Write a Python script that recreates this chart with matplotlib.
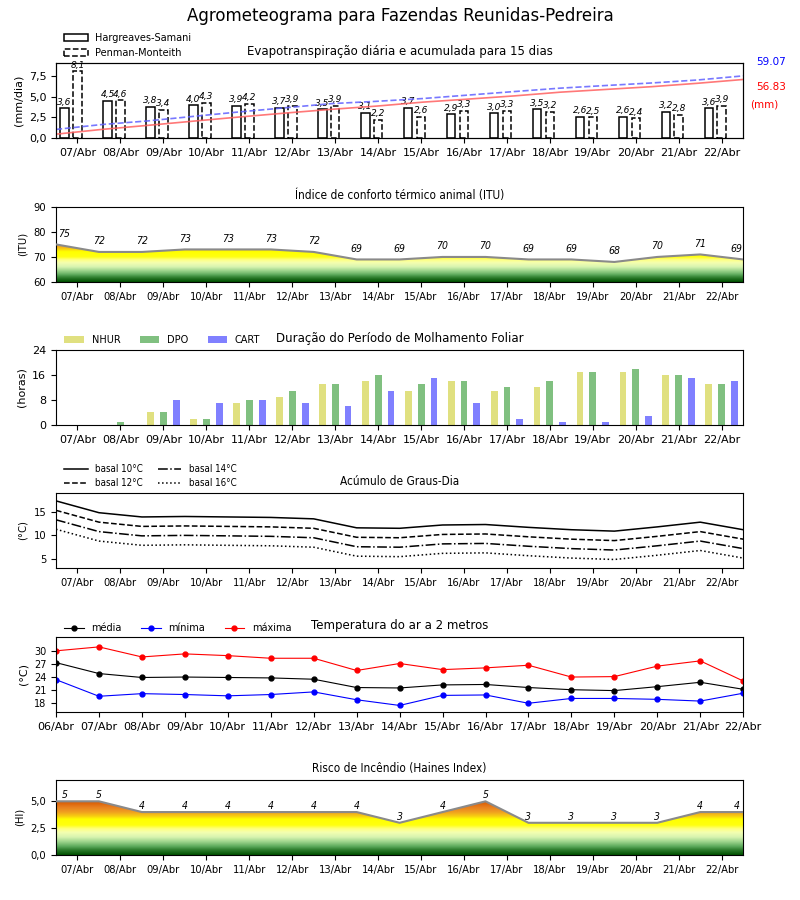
import numpy as np
import matplotlib
matplotlib.use("Agg")
import matplotlib.pyplot as plt
from matplotlib.colors import LinearSegmentedColormap, Normalize
from matplotlib.font_manager import FontProperties

# ---------------- data ----------------
days = ["07/Abr", "08/Abr", "09/Abr", "10/Abr", "11/Abr", "12/Abr", "13/Abr", "14/Abr",
        "15/Abr", "16/Abr", "17/Abr", "18/Abr", "19/Abr", "20/Abr", "21/Abr", "22/Abr"]
days_temp = ["06/Abr"] + days

et_hargreaves = [3.6, 4.5, 3.8, 4.0, 3.9, 3.7, 3.5, 3.1, 3.7, 2.9, 3.0, 3.5, 2.6, 2.6, 3.2, 3.6]
et_penman = [8.1, 4.6, 3.4, 4.3, 4.2, 3.9, 3.9, 2.2, 2.6, 3.3, 3.3, 3.2, 2.5, 2.4, 2.8, 3.9]
et_totals = {"Penman-Monteith": 59.07, "Hargreaves-Samani": 56.83}

itu = [75, 72, 72, 73, 73, 73, 72, 69, 69, 70, 70, 69, 69, 68, 70, 71, 69]

nhur = [0, 0, 4, 2, 7, 9, 13, 14, 11, 14, 11, 12, 17, 17, 16, 13]
dpo = [0, 1, 4, 2, 8, 11, 13, 16, 13, 14, 12, 14, 17, 18, 16, 13]
cart = [0, 0, 8, 7, 8, 7, 6, 11, 15, 7, 2, 1, 1, 3, 15, 14]

gd_10 = [17.3, 14.8, 13.9, 14.0, 13.9, 13.8, 13.5, 11.6, 11.5, 12.2, 12.3, 11.7, 11.2, 10.9, 11.8, 12.8, 11.2]
gd_12 = [15.3, 12.8, 11.9, 12.0, 11.9, 11.8, 11.5, 9.6, 9.5, 10.2, 10.3, 9.7, 9.2, 8.9, 9.8, 10.8, 9.2]
gd_14 = [13.3, 10.8, 9.9, 10.0, 9.9, 9.8, 9.5, 7.6, 7.5, 8.2, 8.3, 7.7, 7.2, 6.9, 7.8, 8.8, 7.2]
gd_16 = [11.3, 8.8, 7.9, 8.0, 7.9, 7.8, 7.5, 5.6, 5.5, 6.2, 6.3, 5.7, 5.2, 4.9, 5.8, 6.8, 5.2]

t_media = [27.3, 24.8, 23.9, 24.0, 23.9, 23.8, 23.5, 21.6, 21.5, 22.2, 22.3, 21.6, 21.1, 20.9, 21.8, 22.8, 21.2]
t_minima = [23.4, 19.6, 20.2, 20.0, 19.7, 20.0, 20.6, 18.8, 17.5, 19.8, 19.9, 18.0, 19.1, 19.1, 18.9, 18.5, 20.3]
t_maxima = [30.0, 30.9, 28.6, 29.3, 28.9, 28.3, 28.3, 25.5, 27.1, 25.7, 26.1, 26.7, 24.0, 24.1, 26.5, 27.7, 23.1]

haines = [5, 5, 4, 4, 4, 4, 4, 4, 3, 4, 5, 3, 3, 3, 3, 4, 4]

# ---------------- style ----------------
plt.rcParams['font.family'] = ['DejaVu Sans']
plt.rcParams['font.size'] = 8
NARROW = ['Liberation Sans Narrow', 'DejaVu Sans']
narrow = FontProperties(family=NARROW, stretch='condensed', size=8)
narrow_title = FontProperties(family=NARROW, stretch='condensed', size=8.5)
narrow_small = FontProperties(family=NARROW, stretch='condensed', size=7)
narrow_it = FontProperties(family=NARROW, stretch='condensed', style='italic', size=7.5)

cmap = LinearSegmentedColormap.from_list("risk", [
    (0.00, '#005000'), (0.08, '#2a7a2a'), (0.14, '#5aa85a'), (0.22, '#9cd48c'),
    (0.30, '#d8f4b0'), (0.38, '#f4ffb0'), (0.44, '#ffff80'), (0.50, '#ffff10'),
    (0.60, '#ffff00'), (0.65, '#f8d010'), (0.72, '#f0a020'), (0.80, '#e88020'),
    (0.90, '#d85800'), (1.00, '#b03000')])

fig = plt.figure(figsize=(8, 9), dpi=100)
fig.suptitle("Agrometeograma para Fazendas Reunidas-Pedreira", fontsize=12, y=0.992)

L, W, H = 0.07, 0.859, 0.0835
x = np.arange(len(days))
xe = np.arange(len(itu)) - 0.5


def comma(v, nd=1):
    return f"{v:.{nd}f}".replace('.', ',')


def gradient_fill(ax, xs, ys, y0, ylim, norm):
    poly = ax.fill_between(xs, y0, ys, facecolor='none', edgecolor='none')
    path = poly.get_paths()[0]
    grad = np.linspace(ylim[0], ylim[1], 400).reshape(-1, 1)
    im = ax.imshow(grad, extent=[xs[0], xs[-1], ylim[0], ylim[1]], origin='lower',
                   aspect='auto', cmap=cmap, norm=norm, zorder=1, interpolation='bilinear')
    im.set_clip_path(path, transform=ax.transData)
    ax.plot(xs, ys, color='#8a8a8a', lw=1.5, zorder=3)


# ---------------- Panel 1: Evapotranspiração ----------------
ax1 = fig.add_axes([L, 1 - 138 / 900, W, H])
ax1.bar(x - 0.3, et_hargreaves, width=0.2, facecolor='white', edgecolor='black',
        lw=1.1, label='Hargreaves-Samani', zorder=2)
ax1.bar(x, et_penman, width=0.2, facecolor='white', edgecolor='black', lw=1.1,
        linestyle='--', label='Penman-Monteith', zorder=2)
for xi, v in zip(x - 0.3, et_hargreaves):
    ax1.text(xi, v + 0.2, comma(v), ha='center', va='bottom', fontsize=6.5, style='italic')
for xi, v in zip(x, et_penman):
    ax1.text(xi, v + 0.2, comma(v), ha='center', va='bottom', fontsize=6.5, style='italic')
ax1.set_xlim(-0.5, 15.5)
ax1.set_ylim(0, 9.15)
ax1.set_yticks([0, 2.5, 5.0, 7.5], [comma(v) for v in [0, 2.5, 5.0, 7.5]])
ax1.set_xticks(x, days)
ax1.set_ylabel("(mm/dia)")
ax1.set_title("Evapotranspiração diária e acumulada para 15 dias", fontsize=8.5)
ax1.legend(loc='lower left', bbox_to_anchor=(0.005, 1.0), frameon=False, fontsize=7,
           handlelength=2.4, borderaxespad=0.1, labelspacing=0.5)
ax1t = ax1.twinx()
xc = np.linspace(-0.5, 15.5, len(days))
cum_pm = np.cumsum(et_penman)
cum_hs = np.cumsum(et_hargreaves)
ax1t.plot(xc, cum_hs, color='#ff6060', lw=1.2, alpha=0.85)
ax1t.plot(xc, cum_pm, color='#6060ff', lw=1.2, ls='--', alpha=0.85)
ax1t.set_ylim(0, 1.2 * et_totals["Penman-Monteith"])
ax1t.set_yticks([])
ax1.text(1.04, 1.01, f"{et_totals['Penman-Monteith']:.2f}", color='blue', transform=ax1.transAxes,
         ha='center', va='center', fontsize=7.5)
ax1.text(1.04, 0.68, f"{et_totals['Hargreaves-Samani']:.2f}", color='red', transform=ax1.transAxes,
         ha='center', va='center', fontsize=7.5)
ax1.text(1.03, 0.44, "(mm)", color='red', transform=ax1.transAxes,
         ha='center', va='center', fontsize=7.5)

# ---------------- Panel 2: ITU ----------------
ax2 = fig.add_axes([L, 1 - 282 / 900, W, H])
gradient_fill(ax2, xe, itu, 60, (60, 90), Normalize(60, 80))
for i, (xi, v) in enumerate(zip(xe, itu)):
    xt = xi
    if i == 0:
        xt = xi + 0.2
    elif i == len(itu) - 1:
        xt = xi - 0.15
    ax2.text(xt, v + 2.2, f"{v}", ha='center', va='bottom', fontproperties=narrow_it)
ax2.set_xlim(-0.5, 15.5)
ax2.set_ylim(60, 90)
ax2.set_yticks([60, 70, 80, 90], ["60", "70", "80", "90"], fontproperties=narrow)
ax2.set_xticks(x, days, fontproperties=narrow)
ax2.set_ylabel("(ITU)", fontproperties=narrow)
ax2.set_title("Índice de conforto térmico animal (ITU)", fontproperties=narrow_title)

# ---------------- Panel 3: Molhamento foliar ----------------
ax3 = fig.add_axes([L, 1 - 425 / 900, W, H])
ax3.bar(x - 0.3, nhur, width=0.16, color='#e0e080', label='NHUR')
ax3.bar(x, dpo, width=0.16, color='#80c080', label='DPO')
ax3.bar(x + 0.3, cart, width=0.16, color='#8080ff', label='CART')
ax3.set_xlim(-0.5, 15.5)
ax3.set_ylim(0, 24)
ax3.set_yticks([0, 8, 16, 24])
ax3.set_xticks(x, days)
ax3.set_ylabel("(horas)")
ax3.set_title("Duração do Período de Molhamento Foliar", fontsize=8.5)
ax3.legend(loc='lower left', bbox_to_anchor=(0.005, 1.0), frameon=False, fontsize=7, ncol=3,
           handlelength=2.0, borderaxespad=0.1, columnspacing=2.0)

# ---------------- Panel 4: Graus-dia ----------------
ax4 = fig.add_axes([L, 1 - 568 / 900, W, H])
ax4.plot(xe, gd_10, color='black', lw=1.1, ls='-', label='basal 10°C')
ax4.plot(xe, gd_12, color='black', lw=1.1, ls='--', label='basal 12°C')
ax4.plot(xe, gd_14, color='black', lw=1.1, ls='-.', label='basal 14°C')
ax4.plot(xe, gd_16, color='black', lw=1.1, ls=':', label='basal 16°C')
ax4.set_xlim(-0.5, 15.5)
ax4.set_ylim(3.1, 19)
ax4.set_yticks([5, 10, 15], ["5", "10", "15"], fontproperties=narrow)
ax4.set_xticks(x, days, fontproperties=narrow)
ax4.set_ylabel("(°C)", fontproperties=narrow)
ax4.set_title("Acúmulo de Graus-Dia", fontproperties=narrow_title)
ax4.legend(loc='lower left', bbox_to_anchor=(0.005, 1.0), frameon=False, ncol=2, prop=narrow_small,
           handlelength=2.4, borderaxespad=0.1, columnspacing=1.5, labelspacing=0.4)

# ---------------- Panel 5: Temperatura ----------------
ax5 = fig.add_axes([L, 1 - 712 / 900, W, H])
xt5 = np.arange(len(days_temp))
ax5.plot(xt5, t_media, color='black', lw=0.8, marker='o', ms=3.5, label='média')
ax5.plot(xt5, t_minima, color='blue', lw=0.8, marker='o', ms=3.5, label='mínima')
ax5.plot(xt5, t_maxima, color='red', lw=0.8, marker='o', ms=3.5, label='máxima')
ax5.set_xlim(0, 16)
ax5.set_ylim(16, 33.2)
ax5.set_yticks([18, 21, 24, 27, 30], ["18", "21", "24", "27", "30"], fontsize=7)
ax5.set_xticks(xt5, days_temp)
ax5.set_ylabel("(°C)")
ax5.set_title("Temperatura do ar a 2 metros", fontsize=8.5)
ax5.legend(loc='lower left', bbox_to_anchor=(0.005, 0.98), frameon=False, fontsize=7, ncol=3,
           handlelength=2.0, borderaxespad=0.1, columnspacing=2.0)

# ---------------- Panel 6: Haines ----------------
ax6 = fig.add_axes([L, 1 - 855 / 900, W, H])
gradient_fill(ax6, xe, haines, 0, (0, 7), Normalize(0, 5.5))
for i, (xi, v) in enumerate(zip(xe, haines)):
    xt = xi
    if i == 0:
        xt = xi + 0.2
    elif i == len(haines) - 1:
        xt = xi - 0.15
    ax6.text(xt, v + 0.12, f"{v}", ha='center', va='bottom', fontproperties=narrow_it)
ax6.set_xlim(-0.5, 15.5)
ax6.set_ylim(0, 7)
ax6.set_yticks([0, 2.5, 5.0], [comma(v) for v in [0, 2.5, 5.0]], fontproperties=narrow)
ax6.set_xticks(x, days, fontproperties=narrow)
ax6.set_ylabel("(HI)", fontproperties=narrow)
ax6.set_title("Risco de Incêndio (Haines Index)", fontproperties=narrow_title)

fig.savefig("out.png", dpi=100)
